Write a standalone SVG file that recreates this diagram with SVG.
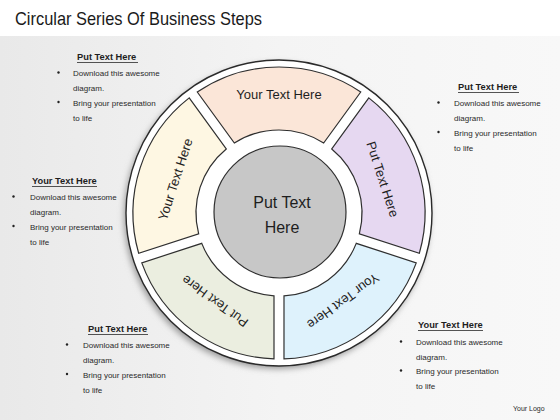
<svg xmlns="http://www.w3.org/2000/svg" xmlns:xlink="http://www.w3.org/1999/xlink" width="560" height="420" viewBox="0 0 560 420">
  <defs>
    <linearGradient id="bg" x1="0" y1="0" x2="1" y2="0">
      <stop offset="0" stop-color="#e9e9e9"/>
      <stop offset="0.5" stop-color="#f4f4f4"/>
      <stop offset="1" stop-color="#f8f8f8"/>
    </linearGradient>
    <filter id="shadow" x="-20%" y="-20%" width="140%" height="140%">
      <feGaussianBlur stdDeviation="3"/>
    </filter>
    <path id="segShape" d="M197.27,92.02 A146,146 0 0 1 360.73,92.02 L323.65,143.04 A83,83 0 0 0 234.35,143.04 Z"/>
  </defs>
  <style>
    .seg { stroke: #2f2f2f; stroke-width: 1.2; }
    .segtxt { font-family: "Liberation Sans", Arial, sans-serif; font-size: 13px; fill: #1e1e1e; text-anchor: middle; }
    .head { font-family: "Liberation Sans", Arial, sans-serif; font-size: 9.3px; font-weight: bold; fill: #1e1e1e; }
    .body { font-family: "Liberation Sans", Arial, sans-serif; font-size: 8px; fill: #2a2a2a; }
    .ul { stroke: #2a2a2a; stroke-width: 0.8; }
    .dot { fill: #222; }
  </style>

  <!-- background -->
  <rect x="0" y="0" width="560" height="420" fill="url(#bg)"/>
  <rect x="0" y="0" width="560" height="36" fill="#ffffff"/>

  <text x="15" y="25" font-family="Liberation Sans, Arial, sans-serif" font-size="19" fill="#1a1a1a" textLength="247" lengthAdjust="spacingAndGlyphs">Circular Series Of Business Steps</text>

  <!-- outer ring -->
  <g id="ring">
    <circle cx="277" cy="216" r="153" fill="#9a9a9a" filter="url(#shadow)"/>
    <circle cx="279" cy="213" r="153" fill="#ffffff" stroke="#2a2a2a" stroke-width="1.4"/>
  </g>

  <g id="seg-top">
    <use xlink:href="#segShape" href="#segShape" class="seg" fill="#fbe6d8"/>
    <text class="segtxt" x="279" y="98.5">Your Text Here</text>
  </g>
  <g id="seg-right">
    <use xlink:href="#segShape" href="#segShape" class="seg" fill="#e6d8f1" transform="rotate(72 279 213)"/>
    <text class="segtxt" x="279" y="108.5" transform="rotate(72 279 213)">Put Text Here</text>
  </g>
  <g id="seg-bottom-right">
    <use xlink:href="#segShape" href="#segShape" class="seg" fill="#def2fc" transform="rotate(144 279 213)"/>
    <text class="segtxt" x="279" y="108.5" transform="rotate(144 279 213)">Your Text Here</text>
  </g>
  <g id="seg-bottom-left">
    <use xlink:href="#segShape" href="#segShape" class="seg" fill="#ebeee0" transform="rotate(216 279 213)"/>
    <text class="segtxt" x="279" y="108.5" transform="rotate(216 279 213)">Put Text Here</text>
  </g>
  <g id="seg-left">
    <use xlink:href="#segShape" href="#segShape" class="seg" fill="#fef7e3" transform="rotate(288 279 213)"/>
    <text class="segtxt" x="279" y="108.5" transform="rotate(288 279 213)">Your Text Here</text>
  </g>

  <g id="center">
    <circle cx="280" cy="212" r="66" fill="#c7c7c7" stroke="#2f2f2f" stroke-width="1.2"/>
    <text x="282" y="208" font-family="Liberation Sans, Arial, sans-serif" font-size="16" fill="#1e1e1e" text-anchor="middle">Put Text</text>
    <text x="282" y="233" font-family="Liberation Sans, Arial, sans-serif" font-size="16" fill="#1e1e1e" text-anchor="middle">Here</text>
  </g>

  <!-- text block 1: top-left -->
  <g id="block-top-left">
    <text class="head" x="77" y="60">Put Text Here</text>
    <line class="ul" x1="77" y1="62.5" x2="138" y2="62.5"/>
    <circle class="dot" cx="58.5" cy="72.5" r="1.2"/>
    <circle class="dot" cx="58.5" cy="102" r="1.2"/>
    <text class="body" x="73" y="76">Download this awesome</text>
    <text class="body" x="73" y="90.5">diagram.</text>
    <text class="body" x="73" y="106">Bring your presentation</text>
    <text class="body" x="73" y="120.5">to life</text>
  </g>

  <!-- text block 2: top-right -->
  <g id="block-top-right">
    <text class="head" x="458" y="90">Put Text Here</text>
    <line class="ul" x1="458" y1="92.5" x2="519" y2="92.5"/>
    <circle class="dot" cx="438.5" cy="102.5" r="1.2"/>
    <circle class="dot" cx="438.5" cy="132" r="1.2"/>
    <text class="body" x="454" y="106">Download this awesome</text>
    <text class="body" x="454" y="121">diagram.</text>
    <text class="body" x="454" y="136">Bring your presentation</text>
    <text class="body" x="454" y="151">to life</text>
  </g>

  <!-- text block 3: left -->
  <g id="block-left">
    <text class="head" x="32" y="184">Your Text Here</text>
    <line class="ul" x1="32" y1="186.5" x2="97" y2="186.5"/>
    <circle class="dot" cx="13.5" cy="196.5" r="1.2"/>
    <circle class="dot" cx="13.5" cy="226" r="1.2"/>
    <text class="body" x="30" y="200">Download this awesome</text>
    <text class="body" x="30" y="215">diagram.</text>
    <text class="body" x="30" y="230">Bring your presentation</text>
    <text class="body" x="30" y="245">to life</text>
  </g>

  <!-- text block 4: bottom-left -->
  <g id="block-bottom-left">
    <text class="head" x="88" y="332">Put Text Here</text>
    <line class="ul" x1="88" y1="334.5" x2="148" y2="334.5"/>
    <circle class="dot" cx="67" cy="344.5" r="1.2"/>
    <circle class="dot" cx="67" cy="374" r="1.2"/>
    <text class="body" x="83" y="348">Download this awesome</text>
    <text class="body" x="83" y="363">diagram.</text>
    <text class="body" x="83" y="378">Bring your presentation</text>
    <text class="body" x="83" y="393">to life</text>
  </g>

  <!-- text block 5: bottom-right -->
  <g id="block-bottom-right">
    <text class="head" x="418" y="328">Your Text Here</text>
    <line class="ul" x1="418" y1="330.5" x2="483" y2="330.5"/>
    <circle class="dot" cx="401" cy="341.5" r="1.2"/>
    <circle class="dot" cx="401" cy="370.5" r="1.2"/>
    <text class="body" x="416" y="345">Download this awesome</text>
    <text class="body" x="416" y="359.5">diagram.</text>
    <text class="body" x="416" y="374">Bring your presentation</text>
    <text class="body" x="416" y="389">to life</text>
  </g>

  <text x="513" y="411" font-family="Liberation Sans, Arial, sans-serif" font-size="7" fill="#2a2a2a">Your Logo</text>

  <g id="connectors"/>
</svg>
